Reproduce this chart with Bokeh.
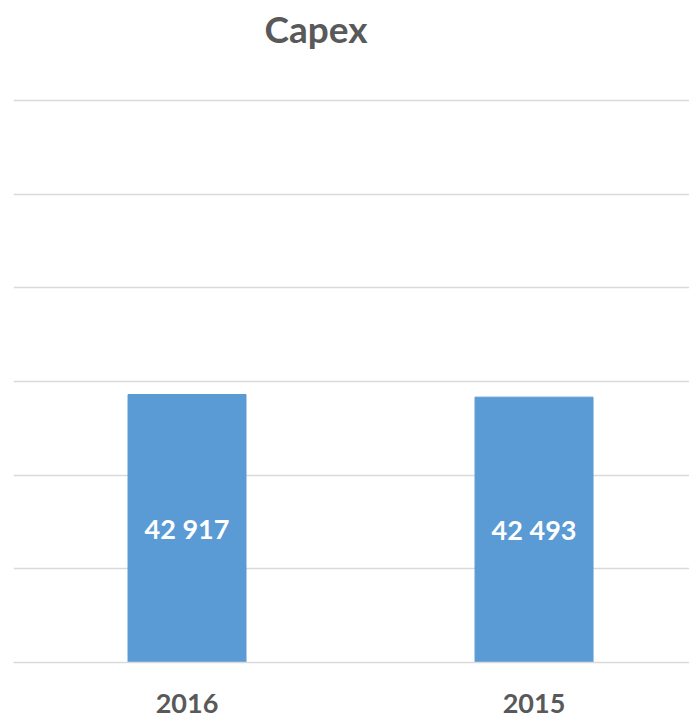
from bokeh.plotting import figure
from bokeh.models import Range1d, FixedTicker, ColumnDataSource, Label
from bokeh.embed import file_html
from bokeh.resources import INLINE
from bokeh.core.properties import value

title_text = "Capex"
categories = ["2016", "2015"]
values = [42917, 42493]
y_ticks = [0, 15000, 30000, 45000, 60000, 75000, 90000]

positions = [i + 0.5 for i in range(len(categories))]
labels = [f"{v:,}".replace(",", " ") for v in values]

src = ColumnDataSource(dict(x=positions, top=values, mid=[v / 2 for v in values], label=labels))

# frame spans the full height above the axis; the top grid line sits 562 px above the axis
frame_h = 717 - 55
y_end = y_ticks[-1] * frame_h / 562

p = figure(width=689, height=717, output_backend="svg", toolbar_location=None,
           x_range=Range1d(0, 1.948), y_range=Range1d(0, y_end),
           min_border_left=13, min_border_right=0, min_border_bottom=55, min_border_top=0)

p.outline_line_color = None
p.background_fill_color = "white"
p.border_fill_color = "white"
p.title.text = ""

title = Label(x=251, y=634, x_units="screen", y_units="screen", text=title_text,
              text_align="left", text_baseline="alphabetic",
              text_font="Lato", text_font_size="37px", text_font_style="bold",
              text_color="#595959")
p.add_layout(title)

p.yaxis.visible = False
p.xaxis.ticker = FixedTicker(ticks=positions)
p.xaxis.major_label_overrides = {pos: c for pos, c in zip(positions, categories)}
p.xaxis.major_tick_line_color = None
p.xaxis.minor_tick_line_color = None
p.xaxis.axis_line_color = "#d9d9d9"
p.xaxis.axis_line_width = 1.5
p.xaxis.major_label_text_font = "Lato"
p.xaxis.major_label_text_font_size = "27px"
p.xaxis.major_label_text_font_style = "bold"
p.xaxis.major_label_text_color = "#595959"
p.xaxis.major_label_standoff = 25

p.xgrid.grid_line_color = None
p.ygrid.ticker = FixedTicker(ticks=y_ticks)
p.ygrid.grid_line_color = "#d9d9d9"
p.ygrid.grid_line_width = 1.5

p.vbar(x="x", top="top", width=0.34, source=src, fill_color="#5B9BD5", line_color="#5B9BD5")
p.text(x="x", y="mid", text="label", source=src, text_align="center", text_baseline="middle",
       text_color="white", text_font=value("Lato"), text_font_style="bold", text_font_size="27px")

open("out.html", "w").write(file_html(p, INLINE))
